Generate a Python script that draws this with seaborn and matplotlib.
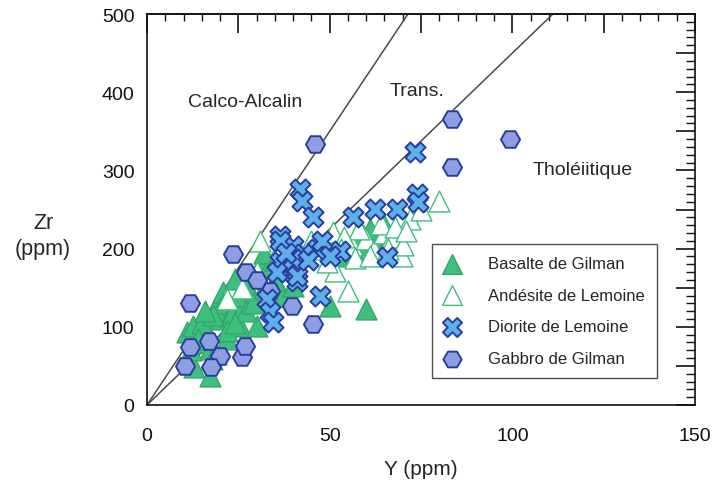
import matplotlib
matplotlib.use("Agg")
import matplotlib.pyplot as plt
import seaborn as sns
import numpy as np
import pandas as pd
from matplotlib.ticker import MultipleLocator, FuncFormatter, NullFormatter

# ---------------- data ----------------
basalte_y = [11, 12.6, 13.7, 13, 16.4, 17.2, 17.8, 17.2, 19, 20, 20.8, 20.8, 21.9, 22.7, 23.5, 24,
             25.5, 26.3, 27.4, 28.2, 28.7, 30, 31.8, 37.2, 40, 15, 18, 22, 25, 27, 29, 33, 35, 14,
             19, 24, 32, 12, 16, 32, 35,
             50, 60, 55, 58, 60, 62, 64, 66, 63, 57, 52, 68, 61, 65, 59]
basalte_zr = [93, 101, 80, 48, 93, 71, 59, 37, 127, 110, 144, 131, 84, 114, 119, 161,
              101, 127, 152, 144, 165, 101, 187, 139, 152, 105, 115, 95, 140, 120, 130, 175, 160, 85,
              65, 105, 150, 70, 120, 195, 185,
              127, 123, 200, 210, 205, 215, 220, 210, 200, 195, 190, 225, 225, 230, 218]

andesite_y = [80, 55, 51.5, 69.8, 49.3, 72, 51, 31, 56, 60, 62, 65, 67, 70, 58, 54, 64, 68, 71,
              53, 57, 61, 66, 47, 45, 75, 42, 38, 40, 30, 26, 22, 36]
andesite_zr = [261, 146, 171, 191, 183, 238, 221, 210, 205, 212, 198, 220, 215, 205, 225, 215, 232,
               228, 222, 200, 188, 190, 200, 200, 210, 250, 195, 190, 180, 170, 150, 135, 200]

diorite_y = [73.4, 41.9, 42.4, 45.5, 73.9, 74.2, 68.4, 62.4, 56.4, 65.7, 36.4, 40, 46.5, 52.8, 42.7,
             36.4, 40, 35.6, 41, 47.4, 32.8, 33.7, 36.4, 40, 41, 34.5, 44, 38, 48, 50]
diorite_zr = [323, 276, 261, 240, 270, 259, 251, 251, 240, 189, 216, 203, 199, 197, 193,
              183, 170, 170, 159, 139, 136, 119, 210, 187, 165, 106, 185, 195, 210, 190]

gabbro_y = [46, 83.5, 83.5, 99.4, 23.6, 11.8, 33.7, 39.7, 45.5, 11.8, 10.4, 26, 26.8, 17, 20, 27,
            17.5, 30]
gabbro_zr = [334, 366, 304, 340, 193, 130, 146, 127, 104, 74, 50, 61, 75, 82, 63, 170,
             49, 160]

ratio_calc = 7.0
ratio_thol = 4.5

labels = ["Basalte de Gilman", "Andésite de Lemoine", "Diorite de Lemoine", "Gabbro de Gilman"]

# ---------------- figure ----------------
sns.set_style("white")
plt.rcParams['font.family'] = ['Liberation Sans', 'DejaVu Sans']

fig = plt.figure(figsize=(7.17, 4.89), dpi=100)
ax = fig.add_axes([147/717, 83/489, 548/717, 391/489])

# reference lines
lx = np.array([0, 150])
ax.plot(lx, ratio_calc * lx, color='#4a4a4a', lw=1.1, zorder=1)
ax.plot(lx, ratio_thol * lx, color='#4a4a4a', lw=1.1, zorder=1)

green = '#3fbf7f'
green_edge = '#2ea866'
blue_edge = '#2a3d9e'

sns.scatterplot(x=basalte_y, y=basalte_zr, ax=ax, marker='^', s=225,
                color=green, edgecolor=green_edge, linewidth=1.0, zorder=3, label=labels[0])
sns.scatterplot(x=andesite_y, y=andesite_zr, ax=ax, marker='^', s=225,
                facecolor='white', edgecolor=green, linewidth=1.0, zorder=3, label=labels[1])
sns.scatterplot(x=gabbro_y, y=gabbro_zr, ax=ax, marker='H', s=190,
                color='#8d9fe2', edgecolor=blue_edge, linewidth=1.4, zorder=4, label=labels[3])
sns.scatterplot(x=diorite_y, y=diorite_zr, ax=ax, marker='X', s=210,
                color='#5db0ea', edgecolor=blue_edge, linewidth=1.4, zorder=5, label=labels[2])

ax.set_xlim(0, 150)
ax.set_ylim(0, 500)

ax.xaxis.set_major_locator(MultipleLocator(50))
ax.xaxis.set_minor_locator(MultipleLocator(10))
ax.yaxis.set_major_locator(MultipleLocator(50))
ax.yaxis.set_minor_locator(MultipleLocator(10))
ax.yaxis.set_major_formatter(FuncFormatter(lambda v, p: f"{int(v)}" if int(v) % 100 == 0 else ""))
ax.tick_params(which='both', direction='in', top=False, right=True, colors='#111111',
               labelsize=14)
ax.tick_params(which='major', length=14, width=1.2)
ax.tick_params(which='minor', length=6.5, width=1.0)
ax.tick_params(axis='x', which='major', pad=16)
ax.tick_params(axis='y', which='major', pad=9)
for s in ax.spines.values():
    s.set_color('#111111')
    s.set_linewidth(1.2)

# top axis has its own tick spacing
sec = ax.secondary_xaxis('top')
sec.xaxis.set_major_locator(MultipleLocator(25))
sec.xaxis.set_minor_locator(MultipleLocator(5))
sec.xaxis.set_major_formatter(NullFormatter())
sec.tick_params(which='both', direction='in', colors='#111111')
sec.tick_params(which='major', length=14, width=1.2)
sec.tick_params(which='minor', length=5, width=1.0)
sec.spines['top'].set_linewidth(1.2)
sec.spines['top'].set_color('#111111')

ax.set_xlabel("Y (ppm)", fontsize=15, labelpad=11)
ax.set_ylabel("")
fig.text(44/717, 1 - 229/489, "Zr", ha='center', va='baseline', fontsize=15.5)
fig.text(43/717, 1 - 255/489, "(ppm)", ha='center', va='baseline', fontsize=15.5)

ax.text(11.2, 382, "Calco-Alcalin", fontsize=14, ha='left', va='baseline')
ax.text(66.5, 396, "Trans.", fontsize=14, ha='left', va='baseline')
ax.text(105.5, 295, "Tholéiitique", fontsize=14, ha='left', va='baseline')

# legend in the original order
h, l = ax.get_legend_handles_labels()
order = [l.index(x) for x in labels]
leg = ax.legend([h[i] for i in order], [l[i] for i in order],
                loc='upper left', bbox_to_anchor=(432/717, 1 - 245/489),
                bbox_transform=fig.transFigure, borderaxespad=0, frameon=True,
                fancybox=False, shadow=False, fontsize=12, labelspacing=1.0,
                handlelength=1.0, handletextpad=1.65, borderpad=0.72, markerscale=0.95)
leg.get_frame().set_edgecolor('#222222')
leg.get_frame().set_linewidth(1.0)
leg.set_zorder(10)

fig.savefig("out.png", dpi=100)
